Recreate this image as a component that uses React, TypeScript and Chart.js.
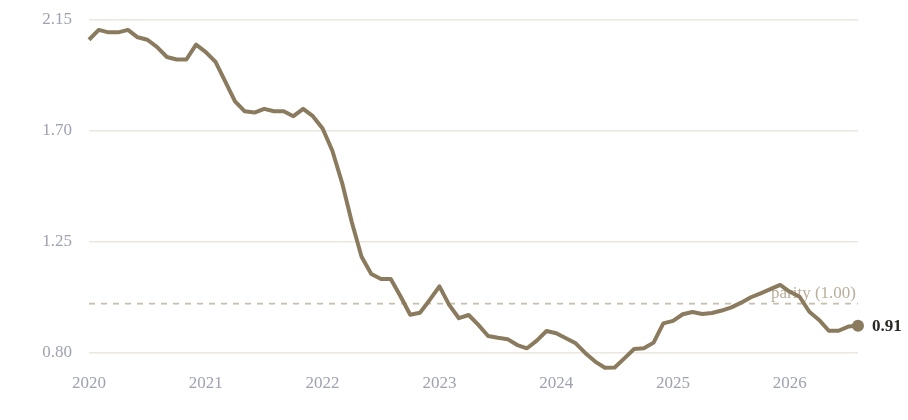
import { useEffect, useRef } from 'react'
import { Chart, registerables } from 'chart.js'
import type { Plugin } from 'chart.js'

Chart.register(...registerables)

// monthly, Jan 2020 .. Aug 2026
const months: string[] = []
for (let y = 2020; y <= 2026; y++) {
  for (let m = 1; m <= 12; m++) {
    if (y === 2026 && m > 8) break
    months.push(`${y}-${String(m).padStart(2, '0')}`)
  }
}

const ratio = [
  2.07, 2.11, 2.10, 2.10, 2.11, 2.08, 2.07, 2.04, 2.00, 1.99, 1.99, 2.05,
  2.02, 1.98, 1.90, 1.82, 1.78, 1.775, 1.79, 1.78, 1.78, 1.76, 1.79, 1.76,
  1.71, 1.62, 1.49, 1.33, 1.19, 1.12, 1.10, 1.10, 1.03, 0.955, 0.963, 1.015,
  1.07, 0.995, 0.941, 0.954, 0.914, 0.869, 0.862, 0.856, 0.832, 0.819, 0.85, 0.889,
  0.88, 0.86, 0.839, 0.799, 0.765, 0.74, 0.741, 0.778, 0.816, 0.819, 0.842, 0.92,
  0.93, 0.957, 0.966, 0.958, 0.962, 0.972, 0.985, 1.004, 1.026, 1.042, 1.059, 1.076,
  1.048, 1.028, 0.967, 0.934, 0.89, 0.89, 0.907, 0.91,
]

const yTicks = [0.80, 1.25, 1.70, 2.15]
const PARITY = 1.0

const LINE = '#8b7b5e'
const TICK = '#9ea2b1'
const GRID = '#ebe7e0'
const FONT = '"Liberation Serif", serif'

const overlays: Plugin<'line'> = {
  id: 'overlays',
  beforeDatasetsDraw(chart) {
    const { ctx, chartArea, scales } = chart
    const y = scales.y.getPixelForValue(PARITY)
    ctx.save()
    ctx.strokeStyle = '#c8bfae'
    ctx.lineWidth = 1.8
    ctx.setLineDash([6, 6])
    ctx.beginPath()
    ctx.moveTo(chartArea.left, y)
    ctx.lineTo(chartArea.right, y)
    ctx.stroke()
    ctx.setLineDash([])
    ctx.fillStyle = '#b9af9c'
    ctx.font = `17px ${FONT}`
    ctx.textAlign = 'right'
    ctx.textBaseline = 'alphabetic'
    ctx.fillText(`parity (${PARITY.toFixed(2)})`, chartArea.right - 2, y - 6)
    ctx.restore()
  },
  afterDatasetsDraw(chart) {
    const { ctx } = chart
    const pts = chart.getDatasetMeta(0).data
    const last = pts[pts.length - 1]
    ctx.save()
    ctx.fillStyle = '#2b2824'
    ctx.font = `bold 17px ${FONT}`
    ctx.textAlign = 'left'
    ctx.textBaseline = 'middle'
    ctx.fillText(ratio[ratio.length - 1].toFixed(2), last.x + 14, last.y + 1)
    ctx.restore()
  },
}

export default function App() {
  const canvasRef = useRef<HTMLCanvasElement>(null)
  const chartRef = useRef<Chart<'line'> | null>(null)

  useEffect(() => {
    document.body.style.margin = '0'
    if (!canvasRef.current) return
    chartRef.current?.destroy()

    chartRef.current = new Chart(canvasRef.current, {
      type: 'line',
      data: {
        labels: months,
        datasets: [
          {
            data: ratio,
            borderColor: LINE,
            backgroundColor: LINE,
            borderWidth: 4,
            tension: 0,
            borderJoinStyle: 'round',
            pointRadius: ratio.map((_, i) => (i === ratio.length - 1 ? 6 : 0)),
            pointBackgroundColor: LINE,
            pointBorderWidth: 0,
          },
        ],
      },
      options: {
        animation: false,
        responsive: true,
        maintainAspectRatio: false,
        layout: { padding: { top: 7.7, right: 50, left: 0, bottom: 0 } },
        plugins: { legend: { display: false }, tooltip: { enabled: false } },
        scales: {
          x: {
            type: 'category',
            offset: false,
            grid: { display: false, drawTicks: false },
            border: { display: false },
            afterFit: s => {
              s.height = 47.3
              s.paddingLeft = 0
              s.paddingRight = 0
            },
            ticks: {
              autoSkip: false,
              maxRotation: 0,
              padding: 1,
              color: TICK,
              font: { family: FONT, size: 17 },
              callback: (_v, i) => (months[i].endsWith('-01') ? months[i].slice(0, 4) : null),
            },
          },
          y: {
            min: 0.72,
            max: 2.2,
            grid: { color: GRID, lineWidth: 1.6, drawTicks: false },
            border: { display: false },
            afterFit: s => {
              s.width = 89
              s.paddingTop = 0
              s.paddingBottom = 0
            },
            afterBuildTicks: s => { s.ticks = yTicks.map(v => ({ value: v })) },
            ticks: {
              padding: 17,
              color: TICK,
              font: { family: FONT, size: 17 },
              callback: v => Number(v).toFixed(2),
            },
          },
        },
      },
      plugins: [overlays],
    })

    return () => chartRef.current?.destroy()
  }, [])

  return (
    <div style={{ width: 908, height: 420, position: 'relative', background: '#fff' }}>
      <canvas ref={canvasRef} />
    </div>
  )
}
